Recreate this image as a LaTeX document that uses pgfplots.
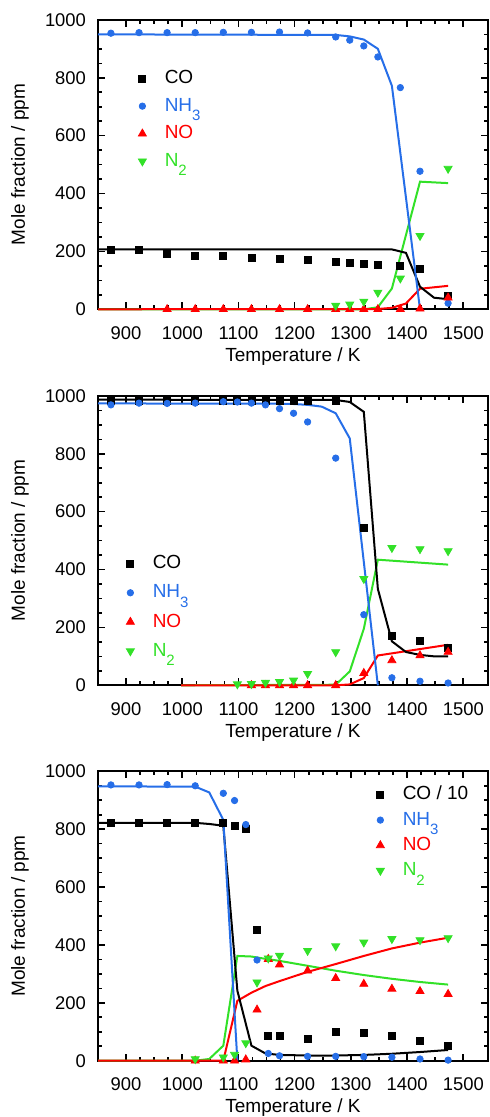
\documentclass[border=0pt]{standalone}
\usepackage{fontspec}
\setmainfont{Liberation Sans}
\usepackage{pgfplots}
\pgfplotsset{compat=1.18}
\definecolor{cblue}{RGB}{38,110,232}
\definecolor{cred}{RGB}{255,0,0}
\definecolor{cgreen}{RGB}{50,225,40}
\newcommand{\sub}[1]{\smash{\raisebox{-0.95ex}{\fontsize{7.5}{7.5}\selectfont #1}}}
\pgfplotsset{
  panel/.style={
    scale only axis, width=195pt, height=144.7pt,
    xmin=850, xmax=1544, ymin=0, ymax=1000,
    clip=false,
    xtick={900,1000,...,1500}, ytick={0,200,...,1000},
    minor x tick num=3, minor y tick num=3,
    tick align=inside, major tick length=3.5pt, minor tick length=2pt,
    axis line style={line width=1pt},
    every tick/.style={black, line width=0.8pt},
    tick label style={font=\fontsize{9.2}{11}\selectfont},
    /pgf/number format/assume math mode=true,
    /pgf/number format/1000 sep={},
    xticklabel style={yshift=-5pt},
    yticklabel style={xshift=-2.5pt},
    label style={font=\fontsize{9.5}{11}\selectfont},
    xlabel={Temperature / K}, ylabel={Mole fraction / ppm},
    xlabel style={at={(axis description cs:0.5,-0.1624)}, anchor=center},
    ylabel style={at={(axis description cs:-0.2,0.5)}, anchor=center},
    legend cell align=left,
    legend style={draw=none, fill=none, inner sep=0pt, outer sep=0pt,
      anchor=north west,
      nodes={inner sep=0pt, font=\fontsize{9.5}{11}\selectfont},
      /tikz/every odd column/.append style={column sep=9.2pt}},
  },
  pts/.style={only marks, legend image code/.code={\draw[##1] plot coordinates {(0pt,0pt)};}},
  co/.style={pts, black, mark=square*, mark size=1.75pt},
  nh/.style={pts, cblue, mark=*, mark size=1.6pt},
  no/.style={pts, cred, mark=triangle*, mark size=2.3pt},
  nn/.style={pts, cgreen, mark=triangle*, mark size=2.3pt, mark options={rotate=180}},
  ln/.style={no marks, line width=1pt, forget plot},
}
\begin{document}
\begin{tikzpicture}
\useasboundingbox (-49pt,-403.85pt) rectangle (195.5pt,154.65pt);
% ---------------- panel 1
\begin{axis}[panel, at={(0pt,0pt)}, anchor=south west,
  legend style={at={(axis description cs:0.1036,0.8253)}, row sep=5.7pt}]
\addplot[co] coordinates {(873,205)(923,205)(973,190)(1023,186)(1073,184)(1123,179)(1173,175)(1223,172)(1273,165)(1298,160)(1323,157)(1348,154)(1388,150)(1423,139)(1473,47)};
\addlegendentry{CO}
\addplot[nh] coordinates {(873,954)(923,956)(973,956)(1023,956)(1073,957)(1123,957)(1173,958)(1223,955)(1273,941)(1298,930)(1323,910)(1348,872)(1388,766)(1423,477)(1473,21)};
\addlegendentry{\textcolor{cblue}{NH\sub{3}}}
\addplot[no] coordinates {(973,0)(1023,0)(1073,0)(1123,0)(1173,0)(1223,0)(1273,0)(1298,0)(1323,0)(1348,0)(1388,0)(1423,2)(1473,40)};
\addlegendentry{\textcolor{cred}{NO}}
\addplot[nn] coordinates {(1273,13)(1298,17)(1323,27)(1348,58)(1388,107)(1423,254)(1473,486)};
\addlegendentry{\textcolor{cgreen}{N\sub{2}}}
\addplot[ln, cgreen] coordinates {(850,0)(1323,0)(1348,7)(1373,72)(1423,441)(1473,436)};
\addplot[ln, cred] coordinates {(850,0)(1348,1)(1373,5)(1398,20)(1423,71)(1473,81)};
\addplot[ln, black] coordinates {(850,207)(1373,207)(1398,195)(1423,78)(1448,40)(1473,35)};
\addplot[ln, cblue] coordinates {(850,950)(1273,948)(1298,943)(1323,932)(1348,900)(1373,772)(1423,0)};
\end{axis}
% ---------------- panel 2
\begin{axis}[panel, at={(0pt,-188pt)}, anchor=south west,
  legend style={at={(axis description cs:0.0728,0.4486)}, row sep=6.5pt}]
\addplot[co] coordinates {(873,982)(923,982)(973,982)(1023,982)(1073,982)(1098,982)(1123,982)(1148,982)(1173,982)(1198,982)(1223,982)(1273,982)(1323,544)(1373,172)(1423,152)(1473,129)};
\addlegendentry{CO}
\addplot[nh] coordinates {(873,969)(923,975)(973,974)(1023,975)(1073,980)(1098,979)(1123,975)(1148,969)(1173,956)(1198,940)(1223,910)(1273,785)(1323,244)(1373,26)(1423,14)(1473,8)};
\addlegendentry{\textcolor{cblue}{NH\sub{3}}}
\addplot[no] coordinates {(1123,0)(1148,0)(1173,0)(1198,0)(1223,0)(1273,0)(1323,42)(1373,86)(1423,103)(1473,115)};
\addlegendentry{\textcolor{cred}{NO}}
\addplot[nn] coordinates {(1098,4)(1123,5)(1148,9)(1173,12)(1198,17)(1223,40)(1273,115)(1323,368)(1373,475)(1423,471)(1473,464)};
\addlegendentry{\textcolor{cgreen}{N\sub{2}}}
\addplot[ln, cgreen] coordinates {(998,0)(1273,2)(1298,48)(1323,195)(1348,434)(1473,417)};
\addplot[ln, cred] coordinates {(998,0)(1273,0)(1298,3)(1323,25)(1348,103)(1473,140)};
\addplot[ln, black] coordinates {(850,987)(1273,986)(1298,979)(1323,945)(1348,333)(1373,152)(1398,115)(1423,105)(1448,100)(1473,100)};
\addplot[ln, cblue] coordinates {(850,974)(1173,973)(1198,972)(1223,969)(1248,963)(1273,940)(1298,853)(1348,0)};
\end{axis}
% ---------------- panel 3
\begin{axis}[panel, at={(0pt,-375.7pt)}, anchor=south west,
  legend style={at={(axis description cs:0.7138,0.9485)}, row sep=4.55pt}]
\addplot[co] coordinates {(873,820)(923,820)(973,820)(1023,820)(1073,820)(1093,811)(1113,801)(1133,453)(1153,86)(1173,84)(1223,77)(1273,101)(1323,97)(1373,86)(1423,69)(1473,52)};
\addlegendentry{CO / 10}
\addplot[nh] coordinates {(873,953)(923,953)(973,954)(1023,950)(1073,924)(1093,899)(1113,816)(1133,348)(1153,25)(1173,17)(1223,15)(1273,15)(1323,14)(1373,12)(1423,6)(1473,2)};
\addlegendentry{\textcolor{cblue}{NH\sub{3}}}
\addplot[no] coordinates {(1023,0)(1073,0)(1093,0)(1113,4)(1133,176)(1153,351)(1173,332)(1223,311)(1273,285)(1323,265)(1373,248)(1423,240)(1473,230)};
\addlegendentry{\textcolor{cred}{NO}}
\addplot[nn] coordinates {(1023,6)(1073,12)(1093,21)(1113,61)(1133,271)(1153,354)(1173,363)(1223,380)(1273,396)(1323,409)(1373,421)(1423,417)(1473,424)};
\addlegendentry{\textcolor{cgreen}{N\sub{2}}}
\addplot[ln, cgreen] coordinates {(850,0)(1023,0)(1048,6)(1073,52)(1098,362)(1123,360)(1148,352)(1173,345)(1223,328)(1273,311)(1323,296)(1373,283)(1423,272)(1473,263)};
\addplot[ln, cred] coordinates {(850,0)(1073,0)(1098,207)(1123,235)(1148,258)(1173,275)(1223,307)(1273,334)(1323,362)(1373,388)(1423,408)(1473,425)};
\addplot[ln, black] coordinates {(850,822)(1023,822)(1048,818)(1073,812)(1098,242)(1123,52)(1148,25)(1173,20)(1223,18)(1273,18)(1323,20)(1373,24)(1423,30)(1473,37)};
\addplot[ln, cblue] coordinates {(850,948)(1023,947)(1048,927)(1073,832)(1098,0)};
\end{axis}
\end{tikzpicture}
\end{document}
